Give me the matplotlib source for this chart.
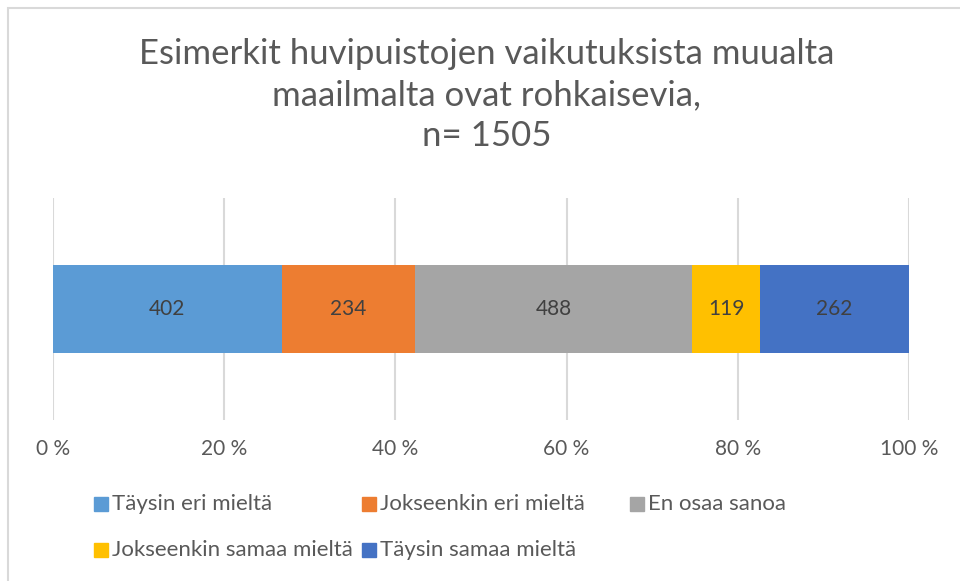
import matplotlib
import matplotlib.pyplot as plt
from matplotlib.patches import Rectangle

matplotlib.use("Agg")

# vastausjakauma, n = 1505
categories = [
    "Täysin eri mieltä",
    "Jokseenkin eri mieltä",
    "En osaa sanoa",
    "Jokseenkin samaa mieltä",
    "Täysin samaa mieltä",
]
counts = [402, 234, 488, 119, 262]
colors = ["#5B9BD5", "#ED7D31", "#A5A5A5", "#FFC000", "#4472C4"]
tick_values = [0, 20, 40, 60, 80, 100]
tick_labels = ["0 %", "20 %", "40 %", "60 %", "80 %", "100 %"]
title = "Esimerkit huvipuistojen vaikutuksista muualta\nmaailmalta ovat rohkaisevia,\nn= 1505"

W, H = 960, 581
plt.rcParams["font.family"] = ["Lato", "DejaVu Sans"]
TEXT = "#595959"

fig = plt.figure(figsize=(W / 100, H / 100), dpi=100)
fig.patch.set_facecolor("white")

# kaavion reunus
fig.add_artist(Rectangle((7.5 / W, -0.1), 1.2, 1 - 7.5 / H + 0.1,
                         transform=fig.transFigure, fill=False,
                         edgecolor="#D9D9D9", linewidth=1.5))

ax = fig.add_axes([53 / W, 1 - 420 / H, (909 - 53) / W, (420 - 198) / H])

total = sum(counts)
left = 0.0
for cat, n, c in zip(categories, counts, colors):
    share = n / total * 100
    ax.barh(0, share, left=left, height=0.396, color=c, label=cat)
    ax.text(left + share / 2, 0, str(n), ha="center", va="center",
            fontsize=15, color="#404040")
    left += share

ax.set_xlim(0, 100)
ax.set_ylim(-0.5, 0.5)
ax.set_xticks(tick_values)
ax.set_xticklabels(tick_labels, fontsize=15, color=TEXT)
ax.tick_params(axis="x", length=0, pad=14)
ax.set_yticks([])
for s in ax.spines.values():
    s.set_visible(False)
ax.grid(axis="x", color="#D9D9D9", linewidth=1.5)
ax.set_axisbelow(True)

fig.text(487 / W, 1 - 95 / H, title, ha="center", va="center",
         fontsize=25, color=TEXT, linespacing=1.35)

# selite kolmeen sarakkeeseen
for i, (cat, c) in enumerate(zip(categories, colors)):
    row, col = divmod(i, 3)
    x = 94 + col * 268
    y = 504 + row * 46
    fig.add_artist(Rectangle((x / W, 1 - (y + 7) / H), 14 / W, 14 / H,
                             transform=fig.transFigure, color=c))
    fig.text((x + 18) / W, 1 - y / H, cat, ha="left", va="center",
             fontsize=16, color=TEXT)

fig.savefig("out.png", dpi=100)
plt.close(fig)
